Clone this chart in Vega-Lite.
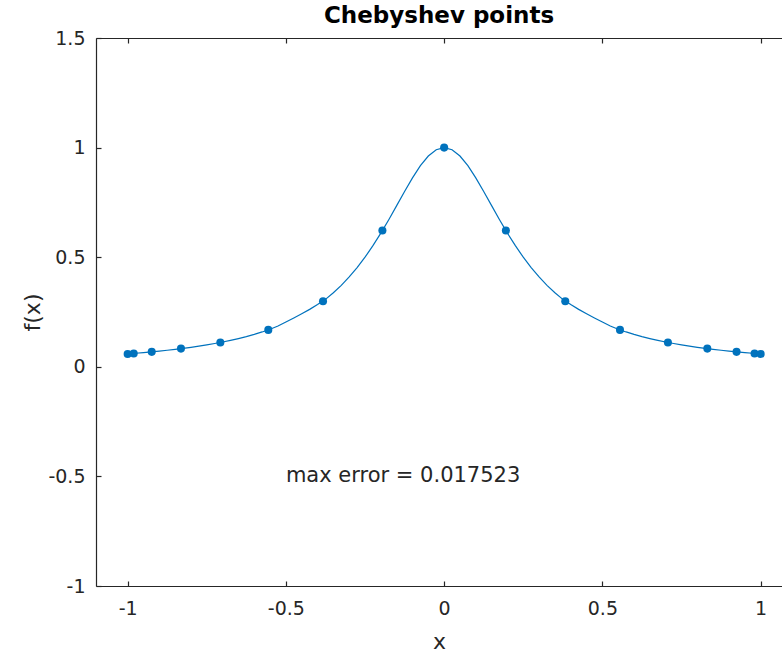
{
  "$schema": "https://vega.github.io/schema/vega-lite/v6.json",
  "width": 686,
  "height": 548,
  "autosize": {"type": "none"},
  "padding": {"left": 96, "top": 38, "right": 0, "bottom": 71},
  "background": "white",
  "config": {
    "view": {"stroke": null},
    "font": "DejaVu Sans",
    "axis": {
      "grid": false,
      "domainColor": "#262626",
      "tickColor": "#262626",
      "labelColor": "#262626",
      "titleColor": "#262626",
      "labelFont": "DejaVu Sans",
      "titleFont": "DejaVu Sans",
      "labelFontSize": 19,
      "titleFontSize": 22,
      "titleFontWeight": "normal",
      "domainWidth": 1.2,
      "tickWidth": 1.2
    }
  },
  "title": {
    "text": "Chebyshev points",
    "font": "DejaVu Sans",
    "fontSize": 23,
    "fontWeight": "bold",
    "color": "#000000",
    "anchor": "middle",
    "offset": 1
  },
  "datasets": {
    "curve": [
      {"x": -1.0, "y": 0.0588}, {"x": -0.975, "y": 0.0617}, {"x": -0.95, "y": 0.0648}, {"x": -0.925, "y": 0.0681},
      {"x": -0.9, "y": 0.0716}, {"x": -0.875, "y": 0.0755}, {"x": -0.85, "y": 0.0796}, {"x": -0.825, "y": 0.0841},
      {"x": -0.8, "y": 0.089}, {"x": -0.775, "y": 0.0943}, {"x": -0.75, "y": 0.1}, {"x": -0.725, "y": 0.1063},
      {"x": -0.7, "y": 0.1131}, {"x": -0.675, "y": 0.1206}, {"x": -0.65, "y": 0.1289}, {"x": -0.625, "y": 0.1379},
      {"x": -0.6, "y": 0.1479}, {"x": -0.575, "y": 0.159}, {"x": -0.55, "y": 0.1712}, {"x": -0.525, "y": 0.186},
      {"x": -0.5, "y": 0.204}, {"x": -0.475, "y": 0.223}, {"x": -0.45, "y": 0.242}, {"x": -0.425, "y": 0.262},
      {"x": -0.4, "y": 0.284}, {"x": -0.375, "y": 0.3077}, {"x": -0.35, "y": 0.3378}, {"x": -0.325, "y": 0.3717},
      {"x": -0.3, "y": 0.4098}, {"x": -0.275, "y": 0.4525}, {"x": -0.25, "y": 0.5}, {"x": -0.225, "y": 0.5525},
      {"x": -0.2, "y": 0.6098}, {"x": -0.175, "y": 0.6711}, {"x": -0.15, "y": 0.7353}, {"x": -0.125, "y": 0.8},
      {"x": -0.1, "y": 0.8621}, {"x": -0.075, "y": 0.9174}, {"x": -0.05, "y": 0.9615}, {"x": -0.025, "y": 0.9901},
      {"x": 0.0, "y": 1.0},
      {"x": 0.025, "y": 0.9901}, {"x": 0.05, "y": 0.9615}, {"x": 0.075, "y": 0.9174}, {"x": 0.1, "y": 0.8621},
      {"x": 0.125, "y": 0.8}, {"x": 0.15, "y": 0.7353}, {"x": 0.175, "y": 0.6711}, {"x": 0.2, "y": 0.6098},
      {"x": 0.225, "y": 0.5525}, {"x": 0.25, "y": 0.5}, {"x": 0.275, "y": 0.4525}, {"x": 0.3, "y": 0.4098},
      {"x": 0.325, "y": 0.3717}, {"x": 0.35, "y": 0.3378}, {"x": 0.375, "y": 0.3077}, {"x": 0.4, "y": 0.284},
      {"x": 0.425, "y": 0.262}, {"x": 0.45, "y": 0.242}, {"x": 0.475, "y": 0.223}, {"x": 0.5, "y": 0.204},
      {"x": 0.525, "y": 0.186}, {"x": 0.55, "y": 0.1712}, {"x": 0.575, "y": 0.159}, {"x": 0.6, "y": 0.1479},
      {"x": 0.625, "y": 0.1379}, {"x": 0.65, "y": 0.1289}, {"x": 0.675, "y": 0.1206}, {"x": 0.7, "y": 0.1131},
      {"x": 0.725, "y": 0.1063}, {"x": 0.75, "y": 0.1}, {"x": 0.775, "y": 0.0943}, {"x": 0.8, "y": 0.089},
      {"x": 0.825, "y": 0.0841}, {"x": 0.85, "y": 0.0796}, {"x": 0.875, "y": 0.0755}, {"x": 0.9, "y": 0.0716},
      {"x": 0.925, "y": 0.0681}, {"x": 0.95, "y": 0.0648}, {"x": 0.975, "y": 0.0617}, {"x": 1.0, "y": 0.0588}
    ],
    "nodes": [
      {"x": -1.0, "y": 0.0588}, {"x": -0.9808, "y": 0.061}, {"x": -0.9239, "y": 0.0682}, {"x": -0.8315, "y": 0.083},
      {"x": -0.7071, "y": 0.1111}, {"x": -0.5556, "y": 0.1684}, {"x": -0.3827, "y": 0.2992}, {"x": -0.1951, "y": 0.6215},
      {"x": 0.0, "y": 1.0}, {"x": 0.1951, "y": 0.6215}, {"x": 0.3827, "y": 0.2992}, {"x": 0.5556, "y": 0.1684},
      {"x": 0.7071, "y": 0.1111}, {"x": 0.8315, "y": 0.083}, {"x": 0.9239, "y": 0.0682}, {"x": 0.9808, "y": 0.061},
      {"x": 1.0, "y": 0.0588}
    ],
    "note": [{"x": -0.5, "y": -0.5, "label": "max error = 0.017523"}]
  },
  "resolve": {"axis": {"x": "independent", "y": "independent"}},
  "layer": [
    {
      "data": {"name": "curve"},
      "mark": {"type": "line", "color": "#0072BD", "strokeWidth": 1.2, "clip": true},
      "encoding": {
        "x": {"field": "x", "type": "quantitative",
              "scale": {"domain": [-1.1, 1.0675], "nice": false, "zero": false},
              "axis": {"orient": "bottom", "values": [-1, -0.5, 0, 0.5, 1], "tickSize": -5, "labelPadding": 18, "title": "x", "titlePadding": 13, "labelExpr": "toString(datum.value)"}},
        "y": {"field": "y", "type": "quantitative",
              "scale": {"domain": [-1, 1.5], "nice": false, "zero": false},
              "axis": {"orient": "left", "values": [-1, -0.5, 0, 0.5, 1, 1.5], "tickSize": -5, "labelPadding": 16, "title": "f(x)", "titlePadding": 3, "labelExpr": "toString(datum.value)"}}
      }
    },
    {
      "data": {"name": "nodes"},
      "mark": {"type": "circle", "color": "#0072BD", "opacity": 1, "size": 65},
      "encoding": {
        "x": {"field": "x", "type": "quantitative",
              "axis": {"orient": "top", "values": [-1, -0.5, 0, 0.5, 1], "tickSize": -5, "labels": false, "title": null}},
        "y": {"field": "y", "type": "quantitative", "axis": null}
      }
    },
    {
      "data": {"name": "note"},
      "mark": {"type": "text", "align": "left", "baseline": "middle", "font": "DejaVu Sans", "fontSize": 21, "color": "#262626"},
      "encoding": {
        "x": {"field": "x", "type": "quantitative", "axis": null},
        "y": {"field": "y", "type": "quantitative", "axis": null},
        "text": {"field": "label"}
      }
    }
  ]
}
